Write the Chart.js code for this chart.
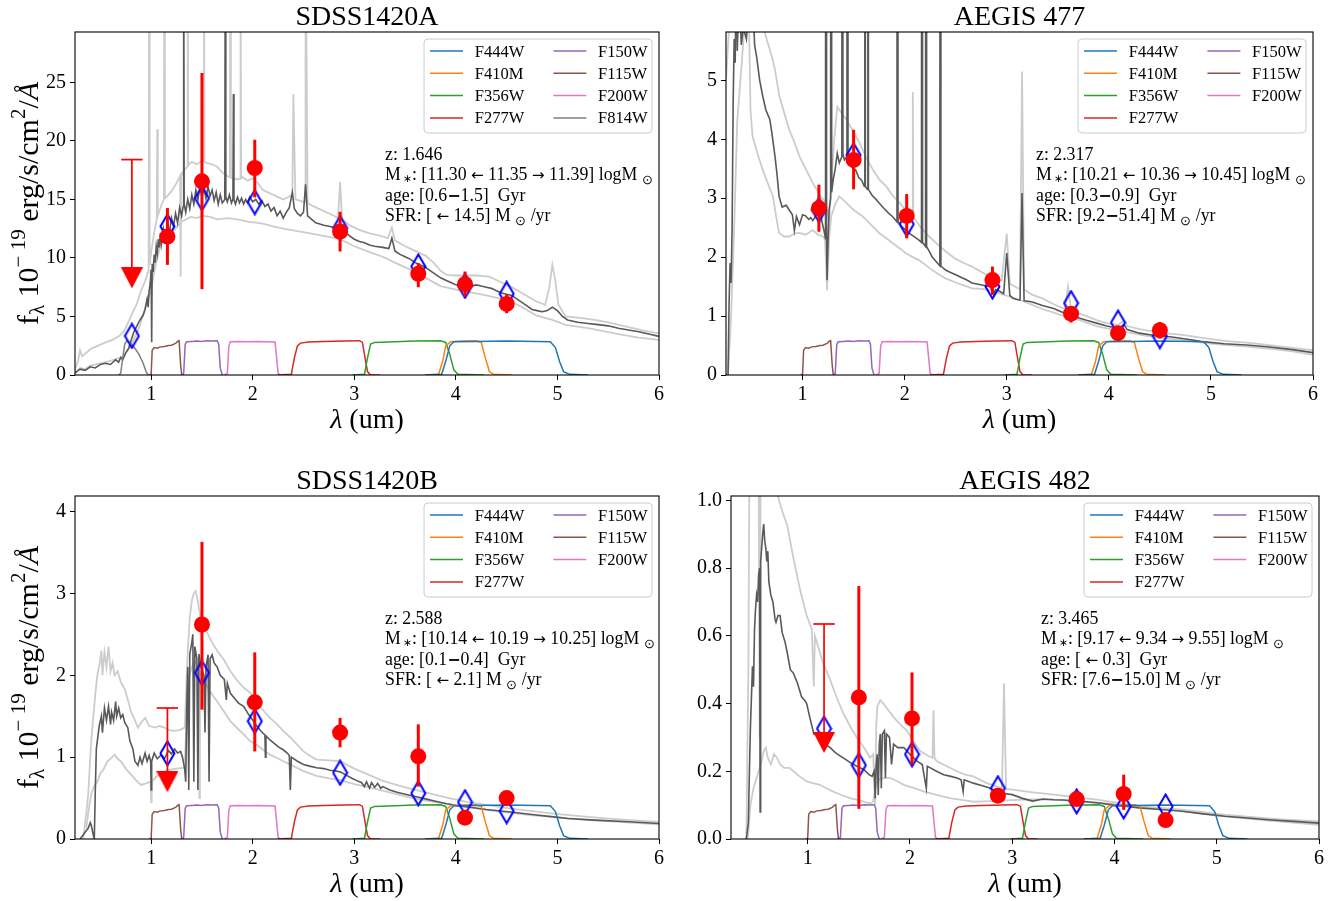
<!DOCTYPE html>
<html>
<head>
<meta charset="utf-8">
<script src="https://cdn.jsdelivr.net/npm/chart.js@4.4.0/dist/chart.umd.min.js"></script>
<style>
  body { margin: 0; background: #fff; }
  #fig { position: relative; width: 1341px; height: 901px; background: #fff; }
  canvas { position: absolute; }
</style>
</head>
<body>
<div id="fig">
  <canvas id="cA" width="670" height="450" style="left:0;top:0"></canvas>
  <canvas id="c477" width="671" height="450" style="left:670px;top:0"></canvas>
  <canvas id="cB" width="670" height="451" style="left:0;top:450px"></canvas>
  <canvas id="c482" width="671" height="451" style="left:670px;top:450px"></canvas>
</div>
<script>
// ---- shared axis values ----
const xTicks = [1, 2, 3, 4, 5, 6];

// ---- filter transmission curves (normalised, wavelength in um) ----
const F444W = [[3.70,0],[3.86,0.02],[3.90,0.4],[3.94,0.85],[3.98,0.97],[4.2,0.98],[4.5,0.99],[4.8,0.98],[4.93,0.97],[4.98,0.8],[5.02,0.4],[5.06,0.1],[5.12,0.02],[5.3,0]];
const F410M = [[3.70,0],[3.83,0.02],[3.87,0.4],[3.90,0.85],[3.95,0.97],[4.05,0.99],[4.2,1.0],[4.25,0.95],[4.29,0.5],[4.33,0.1],[4.37,0.02],[4.55,0]];
const F356W = [[2.98,0],[3.10,0.02],[3.13,0.5],[3.16,0.9],[3.2,0.95],[3.4,0.97],[3.6,0.99],[3.85,1.0],[3.9,0.95],[3.94,0.6],[3.98,0.15],[4.02,0.02],[4.28,0]];
const F277W = [[2.25,0],[2.38,0.02],[2.41,0.5],[2.44,0.85],[2.47,0.93],[2.55,0.96],[2.7,0.98],[2.9,0.99],[3.05,1.0],[3.08,0.95],[3.10,0.6],[3.13,0.1],[3.16,0],[3.25,0]];
const F150W = [[1.30,0],[1.32,0.05],[1.335,0.9],[1.35,0.97],[1.40,0.98],[1.45,0.99],[1.50,0.98],[1.55,1.0],[1.60,0.99],[1.65,1.0],[1.665,0.9],[1.68,0.2],[1.70,0]];
const F115W = [[0.98,0],[1.0,0.02],[1.01,0.72],[1.03,0.80],[1.06,0.78],[1.09,0.82],[1.13,0.83],[1.17,0.86],[1.20,0.87],[1.24,0.92],[1.26,0.98],[1.275,1.0],[1.29,0.3],[1.30,0.02],[1.32,0]];
const F200W = [[1.72,0],[1.75,0.05],[1.765,0.85],[1.78,0.97],[1.85,0.98],[1.95,0.97],[2.05,0.98],[2.15,0.97],[2.22,0.96],[2.235,0.5],[2.25,0.05],[2.27,0]];
const F814W = [[0.68,0],[0.70,0.05],[0.72,0.5],[0.74,0.9],[0.76,1.0],[0.80,0.92],[0.84,0.78],[0.88,0.6],[0.92,0.35],[0.95,0.1],[0.97,0]];

// ---- SDSS1420A ----
const sA_best = [[0.25,0.2],[0.30,0.5],[0.35,0.4],[0.40,0.7],[0.45,0.6],[0.50,0.9],[0.55,1.0],[0.60,0.9],[0.65,1.3],[0.68,1.1],[0.70,1.5],[0.72,1.3],[0.75,1.9],[0.78,2.3],[0.80,2.9],[0.83,3.7],[0.86,4.2],[0.89,4.7],[0.92,5.1],[0.94,5.6],[0.96,6.5],[0.97,5.8],[0.98,7.2],[0.99,7.8],[1.00,9.0],[1.005,2.8],[1.01,9.5],[1.02,8.8],[1.03,10.3],[1.04,9.6],[1.05,11.0],[1.06,10.4],[1.07,11.6],[1.08,10.9],[1.09,12.1],[1.10,11.2],[1.12,12.5],[1.14,11.6],[1.16,12.9],[1.18,12.2],[1.20,13.4],[1.22,12.7],[1.24,13.8],[1.26,13.0],[1.28,14.3],[1.30,13.6],[1.315,14.4],[1.32,40],[1.325,14.6],[1.34,13.9],[1.36,15.0],[1.38,14.2],[1.40,15.4],[1.42,14.6],[1.44,15.8],[1.46,15.0],[1.48,16.0],[1.50,15.2],[1.52,15.9],[1.54,15.1],[1.56,16.1],[1.58,15.3],[1.60,15.8],[1.62,14.9],[1.64,15.6],[1.66,14.6],[1.68,15.4],[1.70,14.7],[1.725,15.0],[1.73,40],[1.735,15.2],[1.75,14.8],[1.77,15.4],[1.79,14.7],[1.805,15.0],[1.81,24],[1.815,15.0],[1.83,14.6],[1.85,15.2],[1.87,14.7],[1.89,15.1],[1.91,14.6],[1.93,15.0],[1.95,14.7],[1.97,15.2],[2.00,14.8],[2.03,15.0],[2.06,14.6],[2.09,14.9],[2.12,14.4],[2.15,14.6],[2.18,14.0],[2.21,14.3],[2.24,13.6],[2.27,14.0],[2.30,13.4],[2.33,13.9],[2.36,14.3],[2.39,15.6],[2.41,14.2],[2.44,13.8],[2.47,13.6],[2.50,13.9],[2.52,16.3],[2.54,13.6],[2.58,13.3],[2.62,13.0],[2.66,12.9],[2.70,12.8],[2.75,12.7],[2.80,12.6],[2.86,12.7],[2.90,12.3],[2.95,11.9],[3.00,11.6],[3.05,11.4],[3.10,11.3],[3.15,11.1],[3.20,11.0],[3.28,10.9],[3.34,10.8],[3.37,11.7],[3.40,10.6],[3.45,10.3],[3.50,10.1],[3.55,9.9],[3.60,9.6],[3.65,9.4],[3.70,9.2],[3.75,8.9],[3.80,8.6],[3.85,8.3],[3.90,8.1],[3.95,7.9],[4.00,7.7],[4.05,7.6],[4.10,7.7],[4.15,7.6],[4.20,7.7],[4.25,7.6],[4.30,7.5],[4.35,7.4],[4.40,7.2],[4.45,7.0],[4.50,6.9],[4.55,6.8],[4.60,6.5],[4.65,6.2],[4.70,5.9],[4.75,5.6],[4.80,5.5],[4.85,5.4],[4.90,5.5],[4.95,5.8],[5.00,5.5],[5.05,5.0],[5.10,4.7],[5.20,4.5],[5.30,4.4],[5.40,4.3],[5.50,4.2],[5.60,4.0],[5.70,3.85],[5.80,3.7],[5.90,3.5],[6.00,3.3]];
const sA_hi = [[0.25,0.5],[0.28,1.2],[0.30,2.1],[0.32,1.6],[0.35,1.8],[0.40,2.2],[0.45,2.4],[0.50,2.6],[0.57,2.85],[0.62,3.0],[0.68,3.3],[0.73,3.7],[0.78,4.6],[0.82,5.4],[0.86,6.1],[0.90,7.2],[0.94,8.0],[0.97,8.8],[0.975,9.0],[0.98,40],[0.985,9.4],[1.00,10.5],[1.03,12.2],[1.055,13.3],[1.06,21],[1.065,13.6],[1.10,14.5],[1.125,15.0],[1.13,40],[1.135,15.1],[1.15,15.2],[1.20,15.7],[1.25,16.4],[1.285,17.0],[1.29,8.4],[1.295,17.1],[1.30,17.2],[1.355,17.8],[1.36,40],[1.365,17.9],[1.40,18.2],[1.45,18.0],[1.50,18.3],[1.515,18.2],[1.52,40],[1.525,18.2],[1.55,18.1],[1.60,18.0],[1.65,17.8],[1.70,17.3],[1.75,17.0],[1.775,16.9],[1.78,40],[1.785,16.9],[1.80,16.8],[1.85,16.7],[1.875,16.8],[1.88,40],[1.885,16.8],[1.90,16.9],[1.95,16.6],[2.00,16.8],[2.05,16.4],[2.10,15.8],[2.15,15.6],[2.20,15.4],[2.25,15.2],[2.30,15.0],[2.35,15.2],[2.39,15.4],[2.40,24],[2.42,15.0],[2.46,14.9],[2.50,14.8],[2.515,14.8],[2.52,40],[2.54,14.7],[2.60,14.4],[2.70,14.0],[2.80,13.6],[2.84,13.4],[2.86,16.5],[2.88,13.3],[2.95,12.8],[3.05,12.4],[3.15,12.1],[3.25,11.9],[3.33,11.7],[3.37,12.6],[3.40,11.5],[3.50,11.0],[3.60,10.6],[3.70,10.2],[3.78,9.6],[3.85,8.9],[3.91,8.55],[4.00,8.5],[4.10,8.5],[4.20,8.5],[4.33,8.4],[4.45,7.9],[4.54,7.55],[4.65,7.0],[4.79,6.3],[4.88,6.0],[4.92,7.5],[4.95,9.4],[4.98,8.0],[5.01,6.0],[5.08,5.0],[5.20,4.9],[5.37,4.7],[5.50,4.5],[5.70,4.1],[5.85,3.8],[6.00,3.55]];
const sA_lo = [[0.25,0.1],[0.30,0.6],[0.35,0.5],[0.40,0.8],[0.50,1.0],[0.60,1.2],[0.73,1.6],[0.80,2.6],[0.86,3.6],[0.90,4.5],[0.95,6.0],[1.00,7.3],[1.03,8.8],[1.06,10.0],[1.10,11.3],[1.15,11.9],[1.23,12.4],[1.30,13.1],[1.39,13.5],[1.45,13.4],[1.50,13.6],[1.58,13.5],[1.65,13.3],[1.75,13.4],[1.85,13.3],[1.95,13.1],[2.05,13.0],[2.11,12.9],[2.20,12.7],[2.30,12.5],[2.37,12.4],[2.50,12.2],[2.63,12.0],[2.75,11.8],[2.86,11.6],[3.00,11.0],[3.15,10.5],[3.28,10.1],[3.40,9.6],[3.55,9.0],[3.70,8.3],[3.85,7.6],[4.00,7.3],[4.12,7.1],[4.30,6.8],[4.54,6.3],[4.65,5.8],[4.79,5.1],[4.95,4.7],[5.08,4.28],[5.30,4.0],[5.60,3.5],[5.80,3.2],[6.00,3.0]];
const A_detWave = [1.16, 1.50, 2.02, 2.86, 3.63, 4.09, 4.50];
const A_detFlux = [11.83, 16.54, 17.68, 12.26, 8.64, 7.76, 6.07];
const A_detLo   = [9.41, 7.33, 15.17, 10.55, 7.5, 6.7, 5.28];
const A_detHi   = [14.26, 25.8, 20.1, 13.94, 9.55, 8.84, 6.84];
const A_ulWave = [0.81];
const A_ulFlux = [8.3];
const A_ulTop  = [18.4];
const A_modWave = [0.81, 1.16, 1.50, 2.02, 2.86, 3.63, 4.09, 4.50];
const A_modFlux = [3.34, 12.7, 15.1, 14.77, 12.55, 9.27, 7.61, 6.93];
const A_yTicks = [0, 5, 10, 15, 20, 25];
const A_info = [
  [['z: 1.646', '']],
  [['M', ''], ['∗', 'st'], [': [11.30 ', ''], ['←', 'a'], [' 11.35 ', ''], ['→', 'a'], [' 11.39] logM ', ''], ['⊙', 'sub']],
  [['age: [0.6', ''], ['−', 'd'], ['1.5]  Gyr', '']],
  [['SFR: [ ', ''], ['←', 'a'], [' 14.5] M ', ''], ['⊙', 'sub'], [' /yr', '']]
];

// ---- AEGIS 477 ----
const s477_best = [[0.27,0],[0.28,1.2],[0.29,1.9],[0.30,1.56],[0.31,2.5],[0.32,4.6],[0.33,5.7],[0.34,5.3],[0.35,7],[0.36,5.5],[0.38,6.5],[0.40,5.6],[0.42,5.9],[0.45,5.7],[0.48,6.5],[0.51,6.5],[0.53,5.6],[0.55,5.4],[0.58,5.0],[0.61,4.73],[0.64,4.5],[0.68,4.33],[0.70,4.1],[0.73,3.71],[0.75,3.4],[0.77,3.03],[0.80,2.85],[0.84,2.88],[0.87,2.80],[0.90,2.72],[0.92,2.45],[0.94,2.69],[0.97,2.55],[1.00,2.72],[1.03,2.70],[1.06,2.64],[1.08,2.67],[1.10,2.62],[1.13,2.70],[1.17,2.80],[1.19,2.60],[1.21,2.45],[1.225,2.3],[1.23,40],[1.235,2.3],[1.24,1.61],[1.25,2.3],[1.26,2.8],[1.275,3.0],[1.28,40],[1.285,3.1],[1.30,3.31],[1.32,3.5],[1.34,3.76],[1.36,3.6],[1.385,3.7],[1.39,40],[1.395,3.75],[1.41,3.65],[1.435,3.71],[1.44,40],[1.445,3.7],[1.47,3.55],[1.50,3.50],[1.52,3.48],[1.55,3.35],[1.58,3.3],[1.605,3.2],[1.61,40],[1.615,3.2],[1.635,3.15],[1.64,40],[1.645,3.15],[1.68,3.05],[1.72,2.98],[1.75,2.92],[1.80,2.82],[1.84,2.75],[1.88,2.69],[1.925,2.6],[1.93,40],[1.935,2.6],[1.97,2.52],[2.01,2.46],[2.05,2.40],[2.10,2.34],[2.14,2.29],[2.165,2.25],[2.17,40],[2.175,2.25],[2.205,2.18],[2.21,40],[2.215,2.18],[2.24,2.1],[2.27,2.0],[2.31,1.92],[2.345,1.85],[2.35,40],[2.355,1.85],[2.40,1.78],[2.45,1.74],[2.50,1.70],[2.55,1.66],[2.60,1.62],[2.66,1.56],[2.72,1.54],[2.78,1.52],[2.84,1.5],[2.87,1.36],[2.89,1.45],[2.93,1.42],[2.97,1.38],[3.00,2.07],[3.03,1.35],[3.06,1.30],[3.10,1.28],[3.13,1.27],[3.15,3.09],[3.17,1.26],[3.21,1.25],[3.25,1.24],[3.35,1.18],[3.46,1.13],[3.55,1.06],[3.62,1.02],[3.67,0.99],[3.78,0.93],[3.88,0.88],[3.98,0.83],[4.09,0.79],[4.15,0.85],[4.18,0.77],[4.30,0.71],[4.45,0.67],[4.60,0.65],[4.72,0.62],[4.90,0.57],[5.13,0.53],[5.35,0.51],[5.55,0.48],[5.80,0.43],[6.00,0.38]];
const s477_hi = [[0.25,5.0],[0.30,6.5],[0.55,6.5],[0.60,6.0],[0.66,5.63],[0.70,5.4],[0.73,5.18],[0.77,4.75],[0.82,4.45],[0.87,4.16],[0.92,3.95],[0.97,3.71],[1.03,3.5],[1.10,3.26],[1.17,3.05],[1.23,2.92],[1.26,2.6],[1.28,3.2],[1.31,4.0],[1.34,4.55],[1.38,4.45],[1.43,4.33],[1.50,4.12],[1.56,3.93],[1.62,3.7],[1.69,3.48],[1.75,3.32],[1.82,3.2],[1.88,3.05],[1.95,2.92],[2.01,2.80],[2.06,2.72],[2.075,2.7],[2.08,4.8],[2.085,2.68],[2.16,2.5],[2.24,2.35],[2.32,2.22],[2.40,2.10],[2.50,1.97],[2.58,1.90],[2.66,1.84],[2.75,1.75],[2.84,1.67],[2.95,1.60],[3.00,2.4],[3.03,1.55],[3.10,1.48],[3.13,1.46],[3.15,5.15],[3.17,1.45],[3.25,1.36],[3.35,1.30],[3.46,1.2],[3.57,1.12],[3.60,1.5],[3.63,1.1],[3.67,1.07],[3.78,1.0],[3.88,0.93],[3.98,0.88],[4.09,0.85],[4.15,0.92],[4.18,0.83],[4.30,0.78],[4.50,0.72],[4.72,0.68],[4.95,0.62],[5.13,0.58],[5.35,0.55],[5.55,0.51],[5.80,0.46],[6.00,0.42]];
const s477_lo = [[0.27,0],[0.30,1.0],[0.33,2.5],[0.36,4.3],[0.40,5.2],[0.43,5.9],[0.47,6.5],[0.49,4.5],[0.51,4.05],[0.56,3.75],[0.61,3.48],[0.66,3.25],[0.71,3.03],[0.74,2.7],[0.77,2.41],[0.82,2.35],[0.87,2.35],[0.92,2.4],[0.97,2.41],[1.03,2.38],[1.10,2.46],[1.15,2.38],[1.20,2.35],[1.22,2.3],[1.24,1.44],[1.26,2.3],[1.28,2.69],[1.32,2.9],[1.36,3.03],[1.43,2.92],[1.50,2.8],[1.59,2.69],[1.67,2.55],[1.75,2.41],[1.82,2.32],[1.88,2.24],[1.95,2.15],[2.01,2.07],[2.08,2.0],[2.14,1.95],[2.21,1.86],[2.27,1.78],[2.34,1.70],[2.40,1.64],[2.50,1.57],[2.58,1.52],[2.66,1.47],[2.75,1.46],[2.84,1.44],[2.95,1.37],[3.05,1.32],[3.15,1.26],[3.25,1.19],[3.35,1.12],[3.46,1.06],[3.57,1.0],[3.67,0.96],[3.78,0.89],[3.88,0.83],[3.98,0.79],[4.09,0.76],[4.20,0.72],[4.35,0.67],[4.50,0.63],[4.72,0.59],[4.95,0.54],[5.13,0.51],[5.35,0.48],[5.55,0.45],[5.80,0.40],[6.00,0.34]];
const E_detWave = [1.16, 1.50, 2.02, 2.86, 3.63, 4.09, 4.50];
const E_detFlux = [2.83, 3.65, 2.70, 1.61, 1.04, 0.71, 0.76];
const E_detLo   = [2.43, 3.15, 2.32, 1.36, 0.89, 0.63, 0.62];
const E_detHi   = [3.23, 4.16, 3.07, 1.84, 1.16, 0.79, 0.90];
const E_modWave = [1.16, 1.50, 2.02, 2.86, 3.63, 4.09, 4.50];
const E_modFlux = [2.80, 3.73, 2.56, 1.50, 1.22, 0.89, 0.66];
const E_yTicks = [0, 1, 2, 3, 4, 5];
const E_info = [
  [['z: 2.317', '']],
  [['M', ''], ['∗', 'st'], [': [10.21 ', ''], ['←', 'a'], [' 10.36 ', ''], ['→', 'a'], [' 10.45] logM ', ''], ['⊙', 'sub']],
  [['age: [0.3', ''], ['−', 'd'], ['0.9]  Gyr', '']],
  [['SFR: [9.2', ''], ['−', 'd'], ['51.4] M ', ''], ['⊙', 'sub'], [' /yr', '']]
];

// ---- SDSS1420B ----
const sB_best = [[0.30,0],[0.33,0.05],[0.36,0.1],[0.38,0.13],[0.40,0.2],[0.41,0.17],[0.43,0.05],[0.44,0],[0.45,0.6],[0.46,1.1],[0.48,1.3],[0.49,1.39],[0.51,1.5],[0.52,1.3],[0.54,1.6],[0.56,1.45],[0.58,1.62],[0.60,1.4],[0.61,1.55],[0.63,1.45],[0.65,1.68],[0.66,1.5],[0.68,1.6],[0.70,1.48],[0.72,1.52],[0.74,1.42],[0.77,1.36],[0.79,1.2],[0.82,1.1],[0.84,0.95],[0.87,0.9],[0.89,1.0],[0.91,0.92],[0.94,1.05],[0.96,0.95],[0.98,1.02],[0.995,0.95],[1.00,0.6],[1.005,0.95],[1.03,1.05],[1.06,0.98],[1.10,1.03],[1.13,0.98],[1.17,1.08],[1.20,1.04],[1.23,1.1],[1.26,1.05],[1.29,1.07],[1.31,0.99],[1.33,0.85],[1.34,0.7],[1.35,1.6],[1.36,2.1],[1.37,0.6],[1.38,2.26],[1.40,2.4],[1.41,2.5],[1.42,0.7],[1.43,2.35],[1.45,2.2],[1.46,0.6],[1.47,2.26],[1.49,2.1],[1.52,2.0],[1.53,1.3],[1.54,2.1],[1.56,2.25],[1.57,0.7],[1.58,2.2],[1.60,2.25],[1.62,2.15],[1.65,2.1],[1.68,2.0],[1.72,1.95],[1.74,1.7],[1.75,1.9],[1.78,1.78],[1.82,1.72],[1.86,1.66],[1.91,1.62],[1.96,1.52],[2.00,1.45],[2.04,1.38],[2.08,1.32],[2.12,1.27],[2.125,1.0],[2.13,1.26],[2.17,1.21],[2.22,1.16],[2.26,1.12],[2.30,1.09],[2.34,1.05],[2.36,1.02],[2.37,0.6],[2.38,1.0],[2.44,0.95],[2.50,0.91],[2.56,0.89],[2.63,0.87],[2.70,0.86],[2.76,0.84],[2.82,0.83],[2.86,0.82],[2.92,0.78],[2.98,0.74],[3.03,0.71],[3.07,0.69],[3.10,0.64],[3.12,0.70],[3.15,0.62],[3.17,0.69],[3.20,0.63],[3.23,0.68],[3.26,0.62],[3.28,0.64],[3.35,0.60],[3.42,0.57],[3.49,0.55],[3.60,0.52],[3.70,0.49],[3.80,0.46],[3.91,0.43],[4.00,0.41],[4.12,0.39],[4.30,0.36],[4.54,0.33],[4.75,0.30],[4.96,0.27],[5.10,0.25],[5.37,0.23],[5.70,0.21],[6.00,0.19]];
const sB_hi = [[0.33,0],[0.36,0.3],[0.38,0.55],[0.41,1.2],[0.45,1.77],[0.47,2.0],[0.49,2.12],[0.51,2.3],[0.52,2.0],[0.54,2.28],[0.56,2.1],[0.58,2.35],[0.60,2.05],[0.62,2.15],[0.64,2.0],[0.67,2.05],[0.70,1.92],[0.74,1.83],[0.77,1.7],[0.80,1.56],[0.84,1.45],[0.87,1.36],[0.90,1.42],[0.94,1.48],[0.98,1.38],[1.04,1.36],[1.08,1.38],[1.13,1.36],[1.18,1.33],[1.23,1.32],[1.28,1.33],[1.33,1.36],[1.36,2.3],[1.38,2.7],[1.40,2.91],[1.42,3.0],[1.44,3.03],[1.46,2.9],[1.49,2.67],[1.54,2.55],[1.59,2.42],[1.65,2.3],[1.72,2.18],[1.78,2.05],[1.85,1.93],[1.91,1.85],[1.98,1.78],[2.04,1.68],[2.11,1.56],[2.17,1.48],[2.24,1.40],[2.30,1.32],[2.37,1.24],[2.44,1.15],[2.50,1.07],[2.57,1.01],[2.63,0.97],[2.75,0.96],[2.86,0.95],[3.0,0.86],[3.15,0.78],[3.28,0.71],[3.50,0.63],[3.70,0.57],[3.90,0.51],[4.12,0.45],[4.33,0.41],[4.54,0.37],[4.75,0.34],[4.96,0.31],[5.30,0.27],[5.60,0.24],[6.00,0.21]];
const sB_lo = [[0.36,0.13],[0.39,0.4],[0.41,0.55],[0.44,0.65],[0.47,0.7],[0.50,0.8],[0.53,0.85],[0.57,0.95],[0.60,0.98],[0.64,1.03],[0.67,0.98],[0.70,0.95],[0.75,0.86],[0.80,0.79],[0.85,0.72],[0.90,0.66],[0.95,0.68],[0.995,0.7],[1.0,0.45],[1.005,0.7],[1.05,0.76],[1.10,0.8],[1.13,0.83],[1.20,0.85],[1.30,0.87],[1.33,0.87],[1.35,1.5],[1.36,1.93],[1.40,2.1],[1.43,2.18],[1.47,2.05],[1.475,0.5],[1.48,2.04],[1.52,1.93],[1.58,1.8],[1.65,1.68],[1.72,1.55],[1.78,1.44],[1.85,1.35],[1.91,1.28],[1.97,1.2],[2.04,1.15],[2.10,1.09],[2.17,1.03],[2.24,0.99],[2.30,0.95],[2.40,0.89],[2.50,0.83],[2.63,0.77],[2.75,0.74],[2.86,0.72],[3.00,0.67],[3.15,0.63],[3.28,0.59],[3.50,0.52],[3.70,0.47],[3.91,0.43],[4.12,0.39],[4.33,0.35],[4.54,0.32],[4.75,0.29],[4.96,0.27],[5.30,0.23],[5.60,0.21],[6.00,0.18]];
const B_detWave = [1.50, 2.02, 2.86, 3.63, 4.09, 4.50];
const B_detFlux = [2.62, 1.67, 1.30, 1.01, 0.26, 0.50];
const B_detLo   = [1.58, 1.07, 1.12, 0.64, 0.24, 0.48];
const B_detHi   = [3.63, 2.28, 1.48, 1.40, 0.28, 0.52];
const B_ulWave = [1.16];
const B_ulFlux = [0.70];
const B_ulTop  = [1.60];
const B_modWave = [1.16, 1.50, 2.02, 2.86, 3.63, 4.09, 4.50];
const B_modFlux = [1.046, 2.03, 1.44, 0.81, 0.56, 0.45, 0.34];
const B_yTicks = [0, 1, 2, 3, 4];
const B_info = [
  [['z: 2.588', '']],
  [['M', ''], ['∗', 'st'], [': [10.14 ', ''], ['←', 'a'], [' 10.19 ', ''], ['→', 'a'], [' 10.25] logM ', ''], ['⊙', 'sub']],
  [['age: [0.1', ''], ['−', 'd'], ['0.4]  Gyr', '']],
  [['SFR: [ ', ''], ['←', 'a'], [' 2.1] M ', ''], ['⊙', 'sub'], [' /yr', '']]
];

// ---- AEGIS 482 ----
const s482_best = [[0.40,0],[0.42,0.05],[0.43,0.2],[0.44,0.33],[0.45,0.42],[0.46,0.51],[0.47,0.45],[0.48,0.62],[0.49,0.68],[0.50,0.72],[0.51,0.7],[0.52,0.78],[0.53,0.8],[0.535,0.08],[0.54,0.82],[0.55,0.86],[0.56,0.9],[0.57,0.93],[0.58,0.88],[0.59,0.86],[0.60,0.82],[0.61,0.85],[0.62,0.76],[0.64,0.72],[0.66,0.7],[0.68,0.65],[0.69,0.64],[0.71,0.66],[0.73,0.66],[0.75,0.61],[0.78,0.58],[0.80,0.55],[0.83,0.50],[0.86,0.49],[0.90,0.46],[0.94,0.42],[0.97,0.41],[0.99,0.40],[1.02,0.36],[1.06,0.31],[1.09,0.31],[1.12,0.30],[1.17,0.28],[1.22,0.27],[1.27,0.255],[1.32,0.245],[1.37,0.235],[1.42,0.225],[1.48,0.215],[1.55,0.205],[1.60,0.19],[1.63,0.185],[1.65,0.2],[1.66,0.12],[1.67,0.22],[1.68,0.25],[1.69,0.13],[1.70,0.28],[1.71,0.31],[1.72,0.15],[1.73,0.31],[1.75,0.32],[1.76,0.18],[1.77,0.31],[1.80,0.3],[1.82,0.22],[1.84,0.28],[1.88,0.27],[1.94,0.27],[2.00,0.25],[2.07,0.23],[2.12,0.22],[2.16,0.15],[2.17,0.215],[2.20,0.21],[2.26,0.2],[2.33,0.19],[2.40,0.185],[2.46,0.18],[2.50,0.175],[2.52,0.14],[2.53,0.175],[2.62,0.165],[2.70,0.158],[2.78,0.151],[2.85,0.14],[2.90,0.135],[3.00,0.131],[3.10,0.12],[3.20,0.112],[3.30,0.118],[3.41,0.116],[3.50,0.115],[3.62,0.112],[3.72,0.11],[3.83,0.107],[4.00,0.1],[4.10,0.097],[4.24,0.092],[4.45,0.087],[4.66,0.082],[4.85,0.075],[5.08,0.067],[5.30,0.062],[5.50,0.057],[5.75,0.052],[6.00,0.047]];
const s482_hi = [[0.40,0],[0.42,0.5],[0.43,1.1],[0.52,1.1],[0.53,0.3],[0.54,1.1],[0.60,1.1],[0.68,1.05],[0.72,1.0],[0.76,0.96],[0.80,0.926],[0.86,0.83],[0.93,0.73],[0.99,0.66],[1.04,0.62],[1.06,0.45],[1.07,0.6],[1.09,0.58],[1.15,0.52],[1.22,0.47],[1.28,0.42],[1.35,0.37],[1.42,0.33],[1.48,0.30],[1.55,0.27],[1.61,0.24],[1.64,0.25],[1.66,0.1],[1.67,0.33],[1.68,0.39],[1.71,0.41],[1.74,0.40],[1.79,0.38],[1.84,0.36],[1.90,0.34],[1.97,0.32],[2.03,0.29],[2.10,0.26],[2.18,0.245],[2.22,0.24],[2.23,0.38],[2.24,0.24],[2.26,0.23],[2.36,0.215],[2.46,0.2],[2.54,0.19],[2.62,0.185],[2.75,0.165],[2.90,0.15],[2.92,0.46],[2.94,0.148],[3.0,0.146],[3.2,0.138],[3.41,0.131],[3.6,0.124],[3.83,0.116],[4.0,0.108],[4.24,0.097],[4.45,0.092],[4.66,0.087],[4.85,0.08],[5.08,0.072],[5.30,0.066],[5.60,0.059],[6.00,0.052]];
const s482_lo = [[0.41,0],[0.42,0.02],[0.44,0.1],[0.47,0.15],[0.50,0.18],[0.52,0.2],[0.55,0.23],[0.57,0.26],[0.59,0.27],[0.61,0.24],[0.64,0.22],[0.67,0.25],[0.70,0.24],[0.73,0.22],[0.77,0.21],[0.82,0.21],[0.86,0.2],[0.92,0.185],[0.99,0.17],[1.05,0.165],[1.12,0.16],[1.18,0.15],[1.25,0.14],[1.33,0.13],[1.42,0.12],[1.50,0.115],[1.57,0.108],[1.61,0.105],[1.64,0.11],[1.66,0.15],[1.68,0.17],[1.72,0.18],[1.81,0.18],[1.88,0.17],[1.94,0.16],[2.04,0.15],[2.14,0.14],[2.26,0.13],[2.40,0.12],[2.52,0.115],[2.62,0.11],[2.80,0.112],[3.00,0.115],[3.20,0.117],[3.41,0.116],[3.62,0.112],[3.83,0.107],[4.04,0.102],[4.24,0.097],[4.45,0.09],[4.66,0.083],[4.85,0.075],[5.08,0.067],[5.30,0.06],[5.60,0.052],[6.00,0.042]];
const G_detWave = [1.50, 2.02, 2.86, 3.63, 4.09, 4.50];
const G_detFlux = [0.418, 0.356, 0.128, 0.118, 0.133, 0.056];
const G_detLo   = [0.089, 0.22, 0.115, 0.105, 0.086, 0.050];
const G_detHi   = [0.747, 0.492, 0.140, 0.130, 0.190, 0.062];
const G_ulWave = [1.16];
const G_ulFlux = [0.285];
const G_ulTop  = [0.635];
const G_modWave = [1.16, 1.50, 2.02, 2.86, 3.63, 4.09, 4.50];
const G_modFlux = [0.326, 0.218, 0.25, 0.15, 0.111, 0.096, 0.096];
const G_yTicks = [0, 0.2, 0.4, 0.6, 0.8, 1.0];
const G_info = [
  [['z: 3.465', '']],
  [['M', ''], ['∗', 'st'], [': [9.17 ', ''], ['←', 'a'], [' 9.34 ', ''], ['→', 'a'], [' 9.55] logM ', ''], ['⊙', 'sub']],
  [['age: [ ', ''], ['←', 'a'], [' 0.3]  Gyr', '']],
  [['SFR: [7.6', ''], ['−', 'd'], ['15.0] M ', ''], ['⊙', 'sub'], [' /yr', '']]
];

// ---- styling / lookup ----
const SERIF = '"Liberation Serif", "Times New Roman", serif';
const SANS = '"DejaVu Sans", sans-serif';
const filterShapes = { F444W, F410M, F356W, F277W, F150W, F115W, F200W, F814W };
const filterColor = {
  F444W: '#1f77b4', F410M: '#ff7f0e', F356W: '#2ca02c', F277W: '#d62728',
  F150W: '#9467bd', F115W: '#8c564b', F200W: '#e377c2', F814W: '#7f7f7f'
};

Chart.defaults.font.family = SERIF;
Chart.defaults.color = '#000';

// marker images
function makeDiamond() {
  const c = document.createElement('canvas');
  c.width = 17; c.height = 27;
  const g = c.getContext('2d');
  g.strokeStyle = '#0000ff'; g.lineWidth = 2;
  g.beginPath();
  g.moveTo(8.5, 1.5); g.lineTo(15.5, 13.5); g.lineTo(8.5, 25.5); g.lineTo(1.5, 13.5);
  g.closePath(); g.stroke();
  return c;
}
function makeTriangle() {
  const c = document.createElement('canvas');
  c.width = 22; c.height = 21;
  const g = c.getContext('2d');
  g.fillStyle = '#ff0000';
  g.beginPath(); g.moveTo(0, 0); g.lineTo(22, 0); g.lineTo(11, 21); g.closePath(); g.fill();
  return c;
}
const diamondImg = makeDiamond();
const triangleImg = makeTriangle();

// rich text helpers (sub/superscripts, arrows)
function segFont(kind, size) {
  if (kind === 'a') return (size * 0.85).toFixed(1) + 'px ' + SANS;
  if (kind === 'd') return 'bold ' + (size * 0.9).toFixed(1) + 'px ' + SANS;
  if (kind === 'st') return (size * 0.6).toFixed(1) + 'px ' + SANS;
  let s = size, pre = '';
  if (kind === 'sub' || kind === 'sup') s = size * 0.7;
  if (kind === 'i') pre = 'italic ';
  return pre + s.toFixed(1) + 'px ' + SERIF;
}
function richWidth(ctx, segs, size) {
  let w = 0;
  for (const [t, k] of segs) { ctx.font = segFont(k, size); w += ctx.measureText(t).width; }
  return w;
}
function drawRich(ctx, segs, x, y, size, align) {
  let cx = align === 'center' ? x - richWidth(ctx, segs, size) / 2 : x;
  ctx.textAlign = 'left';
  ctx.textBaseline = 'alphabetic';
  for (const [t, k] of segs) {
    ctx.font = segFont(k, size);
    let dy = 0;
    if (k === 'sub') dy = size * 0.2;
    else if (k === 'sup') dy = -size * 0.42;
    else if (k === 'st') dy = size * 0.12;
    if (k === 'st') cx += size * 0.12;
    ctx.fillText(t, cx, y + dy);
    cx += ctx.measureText(t).width;
  }
}

const yLabel = [['f', ''], ['λ', 'sub'], [' 10', ''], ['− 19', 'sup'], [' erg/s/cm', ''], ['2', 'sup'], ['/', ''], ['Å', 'i']];
const xLabel = [['λ', 'i'], [' (um)', '']];

const panels = [
  { id: 'cA', title: 'SDSS1420A', ymax: 29.3, yTicks: A_yTicks, dec: 0,
    left: 75, padR: 8, top: 32, xh: 75, ylab: true,
    best: sA_best, hi: sA_hi, lo: sA_lo,
    filters: ['F444W','F410M','F356W','F277W','F150W','F115W','F200W','F814W'],
    det: [A_detWave, A_detFlux, A_detLo, A_detHi], ul: [A_ulWave, A_ulFlux, A_ulTop],
    mod: [A_modWave, A_modFlux], info: A_info },
  { id: 'c477', title: 'AEGIS 477', ymax: 5.82, yTicks: E_yTicks, dec: 0,
    left: 56, padR: 28, top: 32, xh: 75, ylab: false,
    best: s477_best, hi: s477_hi, lo: s477_lo,
    filters: ['F444W','F410M','F356W','F277W','F150W','F115W','F200W'],
    det: [E_detWave, E_detFlux, E_detLo, E_detHi], ul: [[], [], []],
    mod: [E_modWave, E_modFlux], info: E_info },
  { id: 'cB', title: 'SDSS1420B', ymax: 4.19, yTicks: B_yTicks, dec: 0,
    left: 75, padR: 8, top: 46, xh: 62, ylab: true,
    best: sB_best, hi: sB_hi, lo: sB_lo,
    filters: ['F444W','F410M','F356W','F277W','F150W','F115W','F200W'],
    det: [B_detWave, B_detFlux, B_detLo, B_detHi], ul: [B_ulWave, B_ulFlux, B_ulTop],
    mod: [B_modWave, B_modFlux], info: B_info },
  { id: 'c482', title: 'AEGIS 482', ymax: 1.013, yTicks: G_yTicks, dec: 1,
    left: 61, padR: 22, top: 46, xh: 62, ylab: false,
    best: s482_best, hi: s482_hi, lo: s482_lo,
    filters: ['F444W','F410M','F356W','F277W','F150W','F115W','F200W'],
    det: [G_detWave, G_detFlux, G_detLo, G_detHi], ul: [G_ulWave, G_ulFlux, G_ulTop],
    mod: [G_modWave, G_modFlux], info: G_info }
];

const toXY = arr => arr.map(([x, y]) => ({ x, y }));

function buildDatasets(p) {
  const ds = [];
  const line = (data, color, width, order) => ({
    data, borderColor: color, borderWidth: width, showLine: true,
    pointRadius: 0, fill: false, order
  });
  ds.push(line(toXY(p.hi), '#cccccc', 1.8, 60));
  ds.push(line(toXY(p.lo), '#cccccc', 1.8, 61));
  ds.push(line(toXY(p.best), '#595959', 1.6, 50));
  const fh = p.ymax * 0.1;
  p.filters.forEach(name => {
    ds.push(line(filterShapes[name].map(([x, v]) => ({ x, y: v * fh })), filterColor[name], 1.5, 40));
  });
  // model photometry
  const [mw, mf] = p.mod;
  ds.push({ data: mw.map((x, i) => ({ x, y: mf[i] })), pointStyle: diamondImg,
    pointRadius: 10, showLine: false, order: 30 });
  // error bars
  const [dw, df, dlo, dhi] = p.det;
  dw.forEach((x, i) => {
    ds.push(line([{ x, y: dlo[i] }, { x, y: dhi[i] }], '#ff0000', 3, 20));
  });
  // upper limits
  const [uw, uf, ut] = p.ul;
  uw.forEach((x, i) => {
    ds.push(line([{ x, y: uf[i] }, { x, y: ut[i] }], '#ff0000', 1.7, 21));
    ds.push(line([{ x: x - 0.105, y: ut[i] }, { x: x + 0.105, y: ut[i] }], '#ff0000', 1.7, 21));
  });
  if (uw.length) {
    ds.push({ data: uw.map((x, i) => ({ x, y: uf[i] })), pointStyle: triangleImg,
      pointRadius: 10, showLine: false, order: 15 });
  }
  // observed photometry
  ds.push({ data: dw.map((x, i) => ({ x, y: df[i] })), pointStyle: 'circle',
    pointRadius: 8, backgroundColor: '#ff0000', borderWidth: 0, showLine: false, order: 10 });
  return ds;
}

function decorPlugin(p) {
  return {
    id: 'decor',
    afterDraw(chart) {
      const ctx = chart.ctx;
      const a = chart.chartArea;
      ctx.save();
      // frame
      ctx.strokeStyle = '#000';
      ctx.lineWidth = 1.1;
      ctx.strokeRect(a.left, a.top, a.right - a.left, a.bottom - a.top);
      ctx.fillStyle = '#000';
      // title
      ctx.font = '28px ' + SERIF;
      ctx.textAlign = 'center';
      ctx.textBaseline = 'alphabetic';
      ctx.fillText(p.title, (a.left + a.right) / 2, a.top - 7);
      // x label
      drawRich(ctx, xLabel, (a.left + a.right) / 2, a.bottom + 53, 28, 'center');
      // y label
      if (p.ylab) {
        ctx.save();
        ctx.translate(38, (a.top + a.bottom) / 2);
        ctx.rotate(-Math.PI / 2);
        drawRich(ctx, yLabel, 0, 0, 30, 'center');
        ctx.restore();
      }
      // legend
      const bw = 228, bh = 94;
      const bx = a.right - 7 - bw, by = a.top + 7;
      ctx.beginPath();
      ctx.roundRect(bx, by, bw, bh, 4);
      ctx.fillStyle = 'rgba(255,255,255,0.8)';
      ctx.fill();
      ctx.strokeStyle = '#cccccc';
      ctx.lineWidth = 1;
      ctx.stroke();
      p.filters.forEach((name, i) => {
        const col = Math.floor(i / 4), row = i % 4;
        const lx = bx + (col ? 129.4 : 6);
        const ly = by + 12 + row * 22.3;
        ctx.strokeStyle = filterColor[name];
        ctx.lineWidth = 1.5;
        ctx.beginPath(); ctx.moveTo(lx, ly); ctx.lineTo(lx + 33, ly); ctx.stroke();
        ctx.fillStyle = '#000';
        ctx.font = '16.5px ' + SERIF;
        ctx.textAlign = 'left';
        ctx.textBaseline = 'alphabetic';
        ctx.fillText(name, lx + 44.7, ly + 5.5);
      });
      // fit summary
      ctx.fillStyle = '#000';
      p.info.forEach((segs, i) => {
        drawRich(ctx, segs, a.left + 310, a.top + 127.5 + i * 20.6, 17.8, 'left');
      });
      ctx.restore();
    }
  };
}

function makeChart(p) {
  const el = document.getElementById(p.id);
  const tickFont = { family: SERIF, size: 20 };
  return new Chart(el.getContext('2d'), {
    type: 'scatter',
    data: { datasets: buildDatasets(p) },
    options: {
      responsive: false,
      animation: false,
      devicePixelRatio: 1,
      layout: { padding: { left: 0, right: p.padR, top: p.top, bottom: 0 } },
      plugins: { legend: { display: false }, tooltip: { enabled: false } },
      events: [],
      scales: {
        x: {
          type: 'linear', min: 0.25, max: 6,
          afterBuildTicks: s => { s.ticks = xTicks.map(v => ({ value: v })); },
          afterFit: s => { s.height = p.xh; },
          ticks: { font: tickFont, color: '#000', padding: 3, maxRotation: 0, autoSkip: false,
            callback: v => String(v) },
          grid: { display: true, drawOnChartArea: false, drawTicks: true, tickLength: 5, color: '#000' },
          border: { display: false }
        },
        y: {
          type: 'linear', min: 0, max: p.ymax,
          afterBuildTicks: s => { s.ticks = p.yTicks.map(v => ({ value: v })); },
          afterFit: s => { s.width = p.left; },
          ticks: { font: tickFont, color: '#000', padding: 4, autoSkip: false,
            callback: v => Number(v).toFixed(p.dec) },
          grid: { display: true, drawOnChartArea: false, drawTicks: true, tickLength: 5, color: '#000' },
          border: { display: false }
        }
      }
    },
    plugins: [decorPlugin(p)]
  });
}

panels.forEach(makeChart);
</script>
</body>
</html>
